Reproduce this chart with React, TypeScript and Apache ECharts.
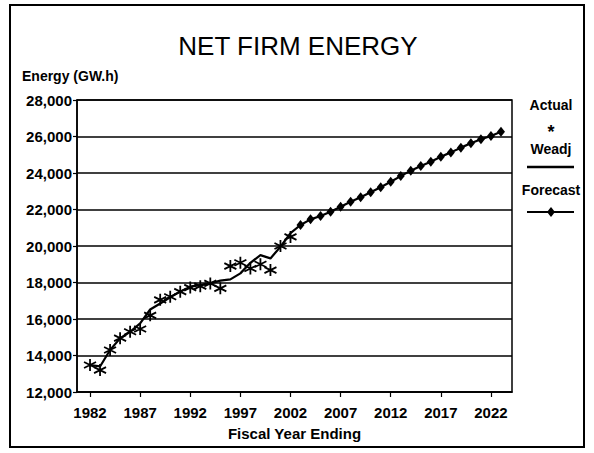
import React, { useEffect, useRef } from "react";
import * as echarts from "echarts";

const actualYears = [1982, 1983, 1984, 1985, 1986, 1987, 1988, 1989, 1990, 1991, 1992, 1993, 1994, 1995, 1996, 1997, 1998, 1999, 2000, 2001, 2002];
const actualValues = [13480, 13200, 14300, 14950, 15300, 15450, 16200, 17050, 17220, 17500, 17720, 17800, 17950, 17680, 18900, 19080, 18770, 19000, 18680, 20000, 20500];

const weadjYears = [1982, 1983, 1984, 1985, 1986, 1987, 1988, 1989, 1990, 1991, 1992, 1993, 1994, 1995, 1996, 1997, 1998, 1999, 2000, 2001, 2002];
const weadjValues = [13480, 13400, 14300, 14940, 15300, 15760, 16520, 16850, 17190, 17500, 17770, 17860, 17950, 18100, 18170, 18500, 19080, 19500, 19320, 19960, 20700];

const forecastYears = [2003, 2004, 2005, 2006, 2007, 2008, 2009, 2010, 2011, 2012, 2013, 2014, 2015, 2016, 2017, 2018, 2019, 2020, 2021, 2022, 2023];
const forecastValues = [21150, 21460, 21640, 21880, 22150, 22430, 22670, 22940, 23220, 23520, 23830, 24130, 24380, 24620, 24890, 25130, 25390, 25630, 25850, 26030, 26260];

const xTickYears = [1982, 1987, 1992, 1997, 2002, 2007, 2012, 2017, 2022];

const FONT = "'Liberation Sans', Arial, sans-serif";
const ASTERISK = "path://M0,-10L0,10M-8.66,-5L8.66,5M-8.66,5L8.66,-5";

export default function App() {
  const ref = useRef<HTMLDivElement>(null);
  useEffect(() => {
    if (!ref.current) return;
    const chart = echarts.init(ref.current, null, { renderer: "svg" });

    const weadjData = weadjYears.map((y, i) => [y, weadjValues[i]]);
    const actualData = actualYears.map((y, i) => [y, actualValues[i]]);
    const lastW = weadjData[weadjData.length - 1];
    const forecastData: any[] = [
      { value: [lastW[0], lastW[1]], symbol: "none" },
      ...forecastYears.map((y, i) => [y, forecastValues[i]]),
    ];

    const legendText = (text: string, y: number) => ({
      type: "text",
      x: 551,
      y,
      style: { text, fontFamily: FONT, fontSize: 14, fontWeight: "bold", fill: "#000", align: "center", verticalAlign: "middle" },
    });

    chart.setOption({
      animation: false,
      backgroundColor: "#ffffff",
      textStyle: { fontFamily: FONT, color: "#000" },
      grid: {
        left: 77,
        right: 82,
        top: 100,
        bottom: 61,
        show: true,
        borderColor: "#000",
        borderWidth: 1.5,
        containLabel: false,
      },
      xAxis: {
        type: "value",
        min: 1980.7,
        max: 2024.1,
        name: "Fiscal Year Ending",
        nameLocation: "middle",
        nameGap: 34,
        nameTextStyle: { fontFamily: FONT, fontWeight: "bold", fontSize: 15, color: "#000" },
        splitLine: { show: false },
        axisLine: { show: true, lineStyle: { color: "#000", width: 1.5 } },
        axisTick: { show: true, length: 5, customValues: xTickYears, lineStyle: { color: "#000", width: 1.2 } },
        axisLabel: {
          customValues: xTickYears,
          fontFamily: FONT,
          fontWeight: "bold",
          fontSize: 15,
          color: "#000",
          margin: 13,
          formatter: (v: number) => String(Math.round(v)),
        },
      },
      yAxis: {
        type: "value",
        min: 12000,
        max: 28000,
        interval: 2000,
        splitLine: { show: true, lineStyle: { color: "#000", width: 1.5 } },
        axisLine: { show: true, lineStyle: { color: "#000", width: 1.5 } },
        axisTick: { show: true, length: 4, lineStyle: { color: "#000", width: 1.2 } },
        axisLabel: {
          fontFamily: FONT,
          fontWeight: "bold",
          fontSize: 15,
          color: "#000",
          margin: 5,
          formatter: (v: number) => v.toLocaleString("en-US"),
        },
      },
      series: [
        {
          name: "Weadj",
          type: "line",
          data: weadjData,
          symbol: "none",
          lineStyle: { color: "#000", width: 2.2 },
          z: 3,
        },
        {
          name: "Forecast",
          type: "line",
          data: forecastData,
          symbol: "diamond",
          symbolSize: [8, 10],
          itemStyle: { color: "#000" },
          lineStyle: { color: "#000", width: 2.2 },
          z: 3,
        },
        {
          name: "Actual",
          type: "scatter",
          data: actualData,
          symbol: ASTERISK,
          symbolSize: 12,
          itemStyle: { color: "#000", borderColor: "#000", borderWidth: 1.8, opacity: 1 },
          z: 4,
        },
      ],
      graphic: [
        {
          type: "rect",
          shape: { x: 10, y: 5, width: 574, height: 442 },
          style: { fill: "none", stroke: "#000", lineWidth: 2 },
          silent: true,
        },
        {
          type: "text",
          x: 298,
          y: 46,
          style: { text: "NET FIRM ENERGY", fontFamily: FONT, fontSize: 26, fill: "#000", align: "center", verticalAlign: "middle" },
        },
        {
          type: "text",
          x: 22,
          y: 76,
          style: { text: "Energy (GW.h)", fontFamily: FONT, fontSize: 14, fontWeight: "bold", fill: "#000", align: "left", verticalAlign: "middle" },
        },
        legendText("Actual", 105),
        {
          type: "text",
          x: 551,
          y: 132,
          style: { text: "*", fontFamily: FONT, fontSize: 18, fontWeight: "bold", fill: "#000", align: "center", verticalAlign: "middle" },
        },
        legendText("Weadj", 149),
        {
          type: "line",
          shape: { x1: 527, y1: 167, x2: 574, y2: 167 },
          style: { stroke: "#000", lineWidth: 2.5 },
        },
        legendText("Forecast", 190),
        {
          type: "line",
          shape: { x1: 527, y1: 212, x2: 574, y2: 212 },
          style: { stroke: "#000", lineWidth: 2 },
        },
        {
          type: "polygon",
          shape: { points: [[551, 207], [555, 212], [551, 217], [547, 212]] },
          style: { fill: "#000" },
        },
      ],
    });
    return () => chart.dispose();
  }, []);
  return <div ref={ref} style={{ position: "fixed", left: 0, top: 0, width: 594, height: 453 }} />;
}
